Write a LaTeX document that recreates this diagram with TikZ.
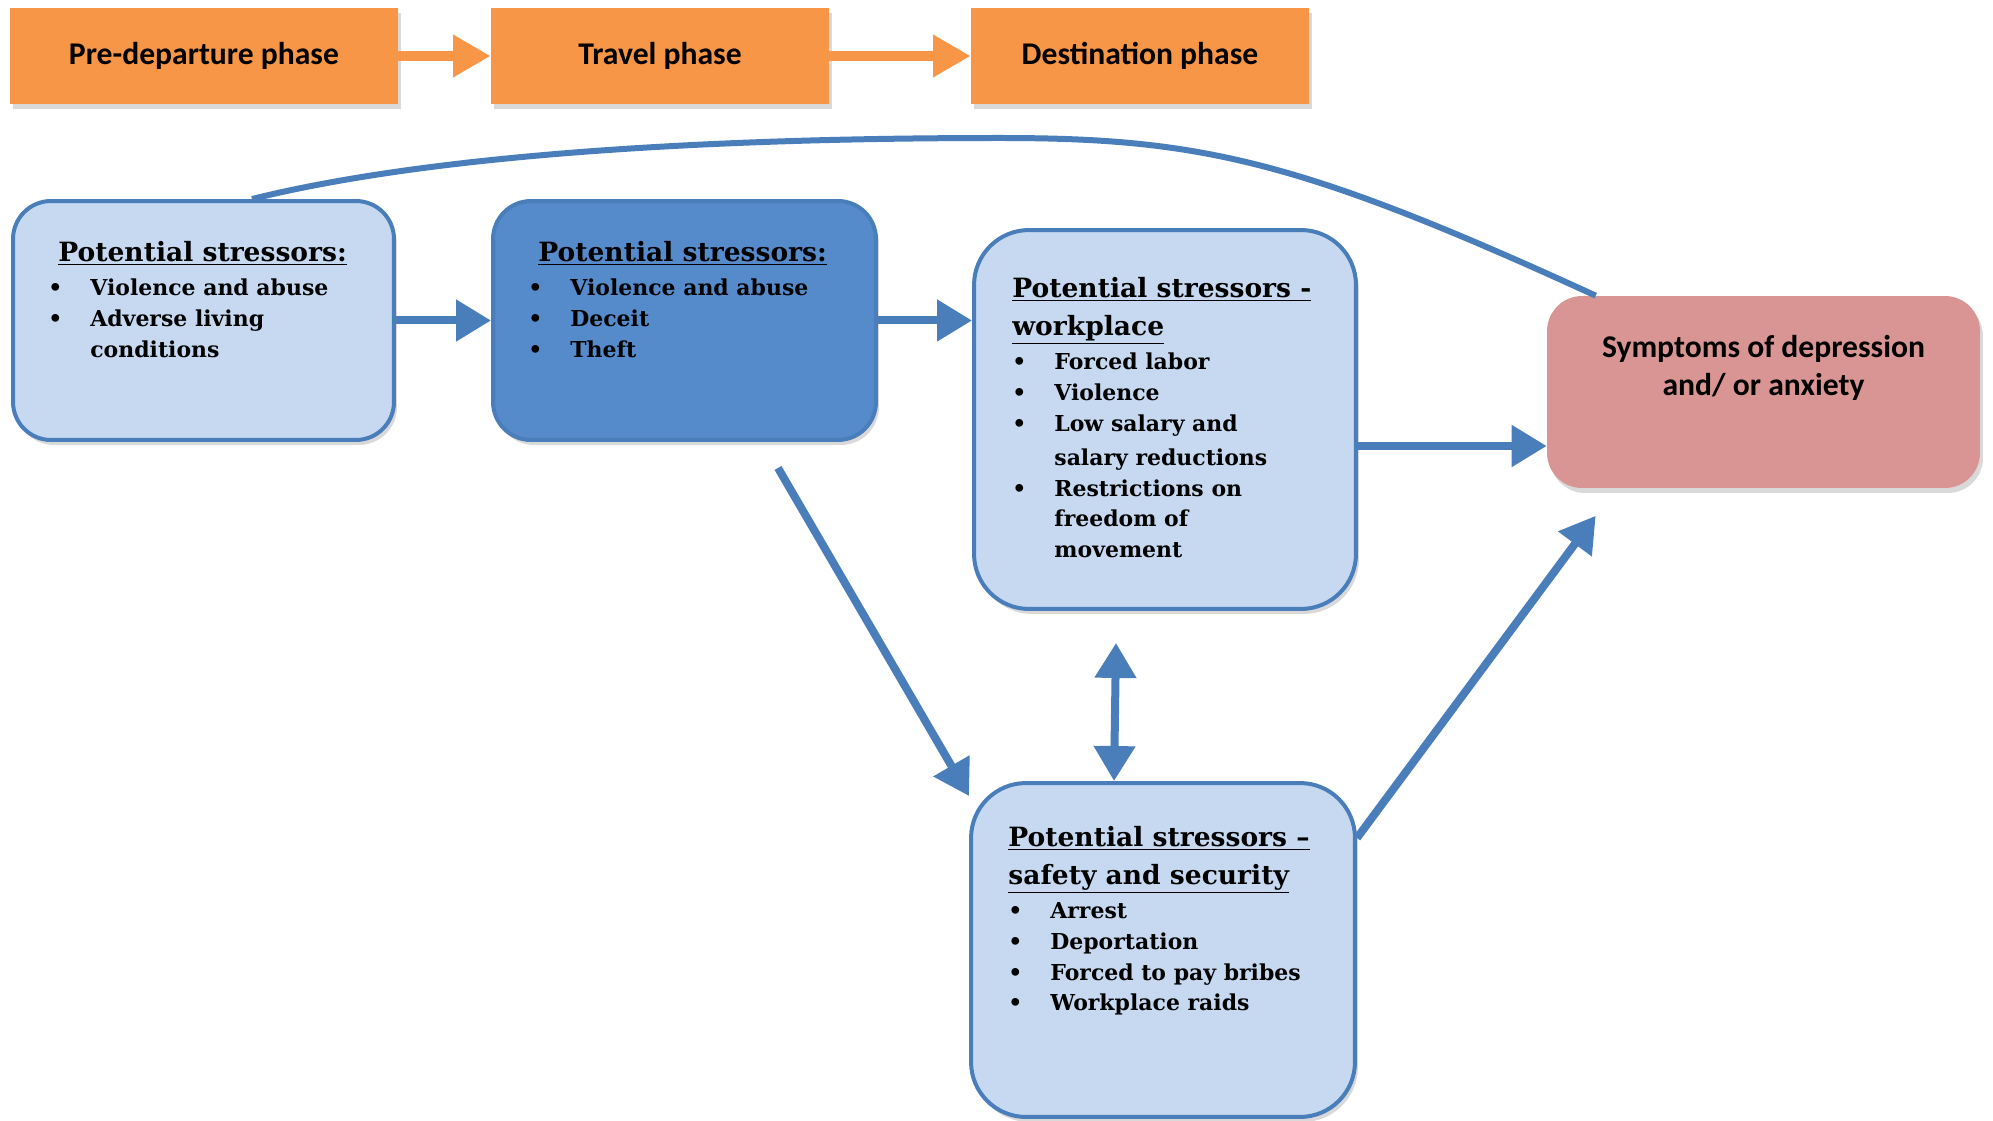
\documentclass[tikz,border=0pt]{standalone}
\usepackage{fontspec}
\newfontfamily\phasefont{Carlito}
\newfontfamily\stressfont{DejaVu Serif}
\usetikzlibrary{arrows.meta,shadows}
\definecolor{phaseorange}{HTML}{F79646}
\definecolor{stresslight}{HTML}{C6D9F0}
\definecolor{stressdark}{HTML}{558ACB}
\definecolor{stressline}{HTML}{4A7EBB}
\definecolor{symptompink}{HTML}{D99594}

\newcommand{\stressitem}[1]{\makebox[0.84cm][l]{\textbullet}#1}
\newcommand{\stressmore}[1]{\hspace*{0.84cm}#1}
\newcommand{\stresshead}[1]{{\fontsize{15.1}{20.4}\selectfont\underline{#1}}}

\tikzset{
  boxshadow/.style={drop shadow={shadow xshift=0.06cm, shadow yshift=-0.1cm, opacity=0.3}},
  phasebox/.style={fill=phaseorange, minimum width=6.76cm, minimum height=1.94cm, boxshadow,
    font=\phasefont\bfseries\fontsize{18}{22}\selectfont},
  phaselink/.style={phaseorange, line width=0.2cm, -{Triangle[length=0.75cm,width=0.8cm]}},
  stressbox/.style={draw=stressline, line width=0.08cm, fill=stresslight, rounded corners=0.76cm, boxshadow},
  stresstext/.style={anchor=north west, inner sep=0pt, align=left,
    font=\stressfont\bfseries\fontsize{12.5}{17.5}\selectfont},
  link/.style={stressline, line width=0.16cm, -{Triangle[length=0.7cm,width=0.8cm]}},
  linkboth/.style={link, {Triangle[length=0.7cm,width=0.8cm]}-{Triangle[length=0.7cm,width=0.8cm]}},
}

\begin{document}
\begin{tikzpicture}[x=0.02cm, y=-0.02cm]
\useasboundingbox (0,0) rectangle (1993,1121);

% phases
\node[phasebox, minimum width=7.76cm] (pre) at (204,56) {Pre-departure phase};
\node[phasebox] (travel) at (660,56) {Travel phase};
\node[phasebox] (dest) at (1140,56) {Destination phase};
\draw[phaselink] (pre) -- (travel);
\draw[phaselink] (travel) -- (dest);

% stressor boxes
\node[stressbox, minimum width=7.62cm, minimum height=4.78cm] (prestress) at (203.5,320.5) {};
\node[stressbox, fill=stressdark, minimum width=7.66cm, minimum height=4.78cm] (travelstress) at (684.5,320.5) {};
\node[stressbox, rounded corners=1.1cm, minimum width=7.64cm, minimum height=7.58cm] (workstress) at (1165,419.5) {};
\node[stressbox, rounded corners=1.1cm, minimum width=7.68cm, minimum height=6.68cm] (safestress) at (1163,950) {};
\node[fill=symptompink, rounded corners=0.7cm, minimum width=8.66cm, minimum height=3.84cm, boxshadow] (symptoms) at (1763.5,392) {};

\node[stresstext] (pretext) at ([xshift=0.74cm,yshift=-0.84cm]prestress.north west) {%
  \hspace*{0.2cm}\stresshead{Potential stressors:}\\[2pt]
  \stressitem{Violence and abuse}\\
  \stressitem{Adverse living}\\
  \stressmore{conditions}};
\node[stresstext] (traveltext) at ([xshift=0.74cm,yshift=-0.84cm]travelstress.north west) {%
  \hspace*{0.2cm}\stresshead{Potential stressors:}\\[2pt]
  \stressitem{Violence and abuse}\\
  \stressitem{Deceit}\\
  \stressitem{Theft}};
\node[stresstext] (worktext) at ([xshift=0.8cm,yshift=-0.98cm]workstress.north west) {%
  \stresshead{Potential stressors -}\\[4pt]
  \stresshead{workplace}\\[2pt]
  \stressitem{Forced labor}\\
  \stressitem{Violence}\\
  \stressitem{Low salary and}\\[2pt]
  \stressmore{salary reductions}\\
  \stressitem{Restrictions on}\\
  \stressmore{freedom of}\\
  \stressmore{movement}};
\node[stresstext] (safetext) at ([xshift=0.78cm,yshift=-0.9cm]safestress.north west) {%
  \stresshead{Potential stressors –}\\[4pt]
  \stresshead{safety and security}\\[2pt]
  \stressitem{Arrest}\\
  \stressitem{Deportation}\\
  \stressitem{Forced to pay bribes}\\
  \stressitem{Workplace raids}};
\node[anchor=north, inner sep=0pt, align=center, font=\phasefont\bfseries\fontsize{18}{22}\selectfont]
  (symtext) at ([yshift=-0.78cm]symptoms.north) {Symptoms of depression\\and/ or anxiety};

% links
\draw[link] (prestress) -- (travelstress);
\draw[link] (travelstress.east) -- (travelstress.east -| workstress.west);
\coordinate (worklink) at ([yshift=-0.53cm]workstress.east);
\draw[link] (worklink) -- (worklink -| symptoms.west);
\draw[link] ([xshift=1.87cm,yshift=-0.52cm]travelstress.south) -- ([yshift=-0.3cm]safestress.north west);
\draw[linkboth] ([xshift=-0.98cm,yshift=-0.64cm]workstress.south) -- ([xshift=-0.98cm]safestress.north);
\draw[link] (safestress.30) -- ([xshift=0.98cm,yshift=-0.55cm]symptoms.south west);
\draw[stressline, line width=0.12cm] ([xshift=0.97cm]prestress.north)
  .. controls (450,150) and (750,138) .. (1000,138)
  .. controls (1200,138) and (1300,160) .. ([xshift=0.98cm]symptoms.north west);
\end{tikzpicture}
\end{document}
